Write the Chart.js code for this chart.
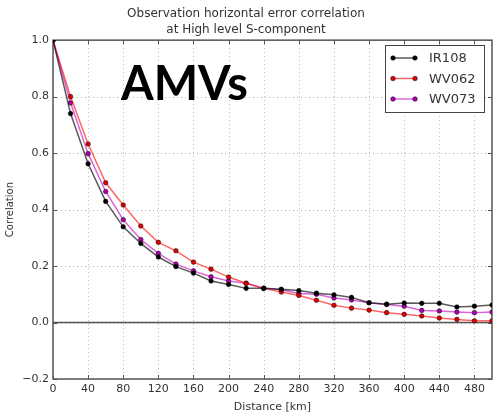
<!DOCTYPE html>
<html>
<head>
<meta charset="utf-8">
<script src="https://cdn.jsdelivr.net/npm/chart.js@4.4.1/dist/chart.umd.min.js"></script>
<style>
  html, body { margin: 0; padding: 0; background: #fff; }
  #wrap { width: 500px; height: 418px; }
</style>
</head>
<body>
<div id="wrap"><canvas id="chart"></canvas></div>
<script>
// distance in km, one point every 20 km
const distance = [0, 20, 40, 60, 80, 100, 120, 140, 160, 180, 200, 220, 240,
                  260, 280, 300, 320, 340, 360, 380, 400, 420, 440, 460, 480, 500];
const ir108 = [1.0, 0.74, 0.562, 0.429, 0.339, 0.280, 0.232, 0.198, 0.175, 0.147, 0.135, 0.121, 0.121,
               0.118, 0.113, 0.104, 0.098, 0.089, 0.070, 0.065, 0.069, 0.068, 0.068, 0.055, 0.058, 0.062];
const wv062 = [1.0, 0.80, 0.632, 0.495, 0.416, 0.342, 0.284, 0.254, 0.214, 0.189, 0.161, 0.139, 0.121,
               0.108, 0.096, 0.079, 0.061, 0.051, 0.044, 0.035, 0.029, 0.023, 0.016, 0.011, 0.006, 0.006];
const wv073 = [1.0, 0.778, 0.598, 0.464, 0.364, 0.294, 0.245, 0.207, 0.183, 0.162, 0.147, 0.139, 0.121,
               0.116, 0.103, 0.100, 0.087, 0.080, 0.070, 0.064, 0.058, 0.043, 0.041, 0.037, 0.035, 0.037];
const seriesNames = ['IR108', 'WV062', 'WV073'];
const xTicks = [0, 40, 80, 120, 160, 200, 240, 280, 320, 360, 400, 440, 480];
const yTicks = [-0.2, 0.0, 0.2, 0.4, 0.6, 0.8, 1.0];

const FONT = 'DejaVu Sans';

function pts(arr) {
    return distance.map((d, i) => ({ x: d, y: arr[i] }));
}

function makeSet(label, arr, line, fill) {
    return {
        label,
        data: pts(arr),
        borderColor: line,
        borderWidth: 1.5,
        pointRadius: 2.3,
        pointBackgroundColor: fill,
        pointBorderColor: '#000',
        pointBorderWidth: 0.5,
        tension: 0
    };
}

// grid, zero line, inward ticks and box like the matplotlib axes
const framePlugin = {
    id: 'frame',
    beforeDatasetsDraw(chart) {
        const { ctx, chartArea: a, scales } = chart;
        ctx.save();
        ctx.strokeStyle = '#b5b5b5';
        ctx.lineWidth = 1;
        ctx.setLineDash([1, 3]);
        xTicks.forEach(v => {
            const x = Math.round(scales.x.getPixelForValue(v)) + 0.5;
            ctx.beginPath(); ctx.moveTo(x, a.top); ctx.lineTo(x, a.bottom); ctx.stroke();
        });
        yTicks.forEach(v => {
            const y = Math.round(scales.y.getPixelForValue(v)) + 0.5;
            ctx.beginPath(); ctx.moveTo(a.left, y); ctx.lineTo(a.right, y); ctx.stroke();
        });
        ctx.setLineDash([]);
        ctx.strokeStyle = '#555';
        ctx.lineWidth = 1;
        xTicks.forEach(v => {
            const x = Math.round(scales.x.getPixelForValue(v)) + 0.5;
            ctx.beginPath(); ctx.moveTo(x, a.top); ctx.lineTo(x, a.top + 4); ctx.stroke();
            ctx.beginPath(); ctx.moveTo(x, a.bottom); ctx.lineTo(x, a.bottom - 4); ctx.stroke();
        });
        yTicks.forEach(v => {
            const y = Math.round(scales.y.getPixelForValue(v)) + 0.5;
            ctx.beginPath(); ctx.moveTo(a.left, y); ctx.lineTo(a.left + 4, y); ctx.stroke();
            ctx.beginPath(); ctx.moveTo(a.right, y); ctx.lineTo(a.right - 4, y); ctx.stroke();
        });
        ctx.lineWidth = 1.5;
        const y0 = scales.y.getPixelForValue(0);
        ctx.beginPath(); ctx.moveTo(a.left, y0); ctx.lineTo(a.right, y0); ctx.stroke();
        ctx.strokeRect(a.left, a.top, a.right - a.left, a.bottom - a.top);
        ctx.restore();
    },
    afterDraw(chart) {
        const { ctx } = chart;
        ctx.save();
        // big label
        ctx.fillStyle = '#000';
        ctx.font = 'bold 47px Lato';
        ctx.textBaseline = 'alphabetic';
        ctx.fillText('AMVs', 121, 100);

        // legend
        const lx = 385, ly = 45, lw = 99, lh = 67;
        ctx.fillStyle = '#fff';
        ctx.fillRect(lx, ly, lw, lh);
        ctx.strokeStyle = '#444';
        ctx.lineWidth = 1;
        ctx.strokeRect(lx + 0.5, ly + 0.5, lw, lh);
        ctx.font = '13px ' + FONT;
        ctx.textBaseline = 'middle';
        chart.data.datasets.forEach((ds, i) => {
            const y = ly + 13 + i * 20.5;
            ctx.strokeStyle = ds.borderColor;
            ctx.lineWidth = 1.5;
            ctx.beginPath(); ctx.moveTo(393, y); ctx.lineTo(415, y); ctx.stroke();
            [393, 415].forEach(x => {
                ctx.beginPath();
                ctx.arc(x, y, 2.3, 0, Math.PI * 2);
                ctx.fillStyle = ds.pointBackgroundColor;
                ctx.fill();
                ctx.strokeStyle = '#000';
                ctx.lineWidth = 0.5;
                ctx.stroke();
            });
            ctx.fillStyle = '#333';
            ctx.fillText(ds.label, 429, y + 1);
        });
        ctx.restore();
    }
};

new Chart(document.getElementById('chart'), {
    type: 'line',
    data: {
        datasets: [
            makeSet(seriesNames[0], ir108, 'rgba(0,0,0,0.65)', '#000'),
            makeSet(seriesNames[1], wv062, 'rgba(255,0,0,0.6)', '#e00000'),
            makeSet(seriesNames[2], wv073, 'rgba(191,0,191,0.6)', '#b000b0')
        ]
    },
    options: {
        responsive: true,
        maintainAspectRatio: false,
        animation: false,
        layout: { padding: { right: 8, left: 0, top: 0, bottom: 0 } },
        plugins: {
            legend: { display: false },
            tooltip: { enabled: false },
            title: {
                display: true,
                text: ['Observation horizontal error correlation', 'at High level S-component'],
                color: '#333',
                font: { family: FONT, size: 12, weight: 'normal', lineHeight: 1.34 },
                padding: { top: 6, bottom: 2 }
            }
        },
        scales: {
            x: {
                type: 'linear',
                min: 0,
                max: 500,
                afterBuildTicks: s => { s.ticks = xTicks.map(v => ({ value: v })); },
                afterFit: s => { s.height = 39; },
                grid: { display: false, drawTicks: false },
                border: { display: false },
                ticks: { color: '#333', font: { family: FONT, size: 11 }, padding: 4, maxRotation: 0 },
                title: { display: true, text: 'Distance [km]', color: '#333',
                         font: { family: FONT, size: 11 }, padding: { top: 0, bottom: 4 } }
            },
            y: {
                min: -0.2,
                max: 1.0,
                afterBuildTicks: s => { s.ticks = yTicks.map(v => ({ value: v })); },
                afterFit: s => { s.width = 53; },
                grid: { display: false, drawTicks: false },
                border: { display: false },
                ticks: {
                    color: '#333',
                    font: { family: FONT, size: 11 },
                    padding: 4,
                    callback: v => (v < 0 ? '\u2212' + Math.abs(v).toFixed(1) : v.toFixed(1))
                },
                title: { display: true, text: 'Correlation', color: '#333',
                         font: { family: FONT, size: 10 }, padding: { top: 4, bottom: 0 } }
            }
        }
    },
    plugins: [framePlugin]
});
</script>
</body>
</html>
